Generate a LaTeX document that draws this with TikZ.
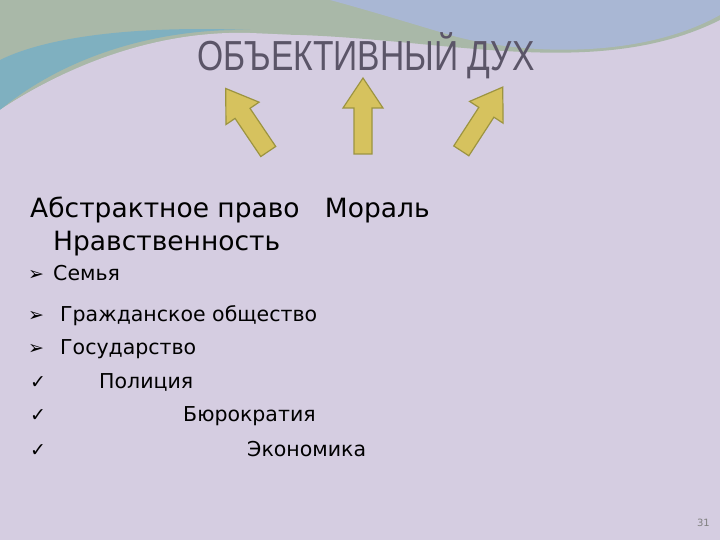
\documentclass[tikz,border=0pt]{standalone}
\usepackage{fontspec}
\setmainfont{DejaVu Sans}
\newfontfamily\titlefont{Liberation Sans}
\definecolor{bg}{HTML}{D5CDE1}
\definecolor{teal1}{HTML}{7FB0C0}
\definecolor{green1}{HTML}{A9B8A8}
\definecolor{blue1}{HTML}{A9B7D4}
\definecolor{arrowfill}{HTML}{D6C25E}
\definecolor{arrowline}{HTML}{9C9440}
\definecolor{titlecol}{HTML}{5B5568}
\tikzset{
  blockarrow/.style={draw=arrowline, line width=1.2pt, fill=arrowfill, line join=miter},
  txt/.style={anchor=base west, inner sep=0pt, text=black},
  big/.style={txt, font=\fontsize{26.5}{30}\selectfont},
  small/.style={txt, font=\fontsize{20.5}{24}\selectfont},
  bullet/.style={txt, font=\fontsize{19}{24}\selectfont}
}
\newcommand{\blkarrow}{(-38,-9) -- (8,-9) -- (8,-20) -- (38,0) -- (8,20) -- (8,9) -- (-38,9) -- cycle}
\begin{document}
\begin{tikzpicture}[x=1pt,y=-1pt]
\useasboundingbox (0,0) rectangle (720,540);
\fill[bg] (0,0) rectangle (720,540);
% top waves
\fill[green1] (0,0) -- (720,0) -- (720,20) .. controls (600,80) and (450,40) .. (300,35) .. controls (150,30) and (60,70) .. (0,110) -- cycle;
\fill[teal1] (0,60) .. controls (40,40) and (120,25) .. (250,30) .. controls (150,28) and (60,60) .. (0,110) -- cycle;
\fill[blue1] (330,0) -- (720,0) -- (720,15) .. controls (640,60) and (520,55) .. (450,35) .. controls (400,20) and (360,8) .. (330,0) -- cycle;
\fill[bg] (0,110) .. controls (60,70) and (150,30) .. (250,33) .. controls (330,36) and (420,45) .. (520,65) .. controls (600,75) and (680,50) .. (720,35) -- (720,540) -- (0,540) -- cycle;
\node[anchor=center, text=titlecol, font=\titlefont\fontsize{42}{48}\selectfont, xscale=0.8] (title) at (366,56) {ОБЪЕКТИВНЫЙ ДУХ};
% arrows
\draw[blockarrow, shift={(247,120)}, rotate=124] \blkarrow;
\draw[blockarrow, shift={(363,116)}, rotate=90] \blkarrow;
\draw[blockarrow, shift={(482,119)}, rotate=57] \blkarrow;
% text
\node[big] (t1) at (30,218) {Абстрактное право\ \ \ Мораль};
\node[big] (t2) at (53,250) {Нравственность};
\node[bullet] (b1) at (28,280) {➢};
\node[small] (l1) at (53,280) {Семья};
\node[bullet] (b2) at (28,321) {➢};
\node[small] (l2) at (60,321) {Гражданское общество};
\node[bullet] (b3) at (28,354) {➢};
\node[small] (l3) at (60,354) {Государство};
\node[bullet] (b4) at (30,388) {✓};
\node[small] (l4) at (99,388) {Полиция};
\node[bullet] (b5) at (30,421) {✓};
\node[small] (l5) at (183,421) {Бюрократия};
\node[bullet] (b6) at (30,456) {✓};
\node[small] (l6) at (247,456) {Экономика};
\node[anchor=base east, inner sep=0pt, text=gray, font=\fontsize{10}{12}\selectfont] (pg) at (710,526) {31};
\end{tikzpicture}
\end{document}
